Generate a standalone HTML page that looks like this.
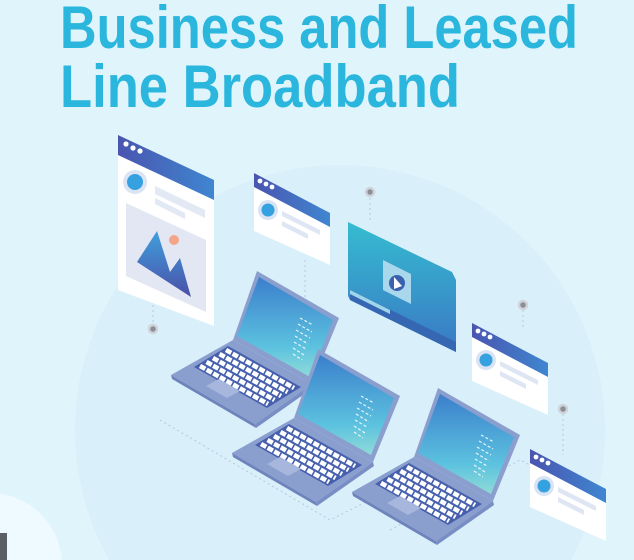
<!DOCTYPE html>
<html><head><style>
html,body{margin:0;padding:0;width:634px;height:560px;overflow:hidden;background:#e0f4fb}
svg{display:block;overflow:hidden}
</style></head><body>
<svg width="634" height="560" viewBox="0 0 634 560" xmlns="http://www.w3.org/2000/svg">
<defs>
<linearGradient id="hdr" x1="0" y1="0" x2="1" y2="0"><stop offset="0" stop-color="#4a55b0"/><stop offset="1" stop-color="#3f86d0"/></linearGradient>
<linearGradient id="vid" x1="0" y1="0" x2="0" y2="1"><stop offset="0" stop-color="#35bcd0"/><stop offset="1" stop-color="#3a78c4"/></linearGradient>
<linearGradient id="scr" x1="0" y1="0" x2="0" y2="1"><stop offset="0" stop-color="#3b7fcc"/><stop offset="0.7" stop-color="#5cc2df"/><stop offset="1" stop-color="#8fdbd8"/></linearGradient>
<linearGradient id="mtn" x1="0" y1="0" x2="0" y2="1"><stop offset="0" stop-color="#3fa0dc"/><stop offset="1" stop-color="#4a4fa8"/></linearGradient>
<g id="lap">
  <polygon points="171,375 233,340 312,384 255,424" fill="#8b9fcf"/>
  <polygon points="171,375 255,424 256,428 172,379" fill="#6f84bd"/>
  <polygon points="255,424 312,384 313,388 256,428" fill="#7a8ec6"/>
  <polygon points="233,340 257,271 339,318 312,384" fill="#8b9fcf"/>
  <polygon points="237,336 259,277 333,320 310,377" fill="url(#scr)"/>
  <g stroke="#ffffff" stroke-width="1.2" stroke-dasharray="3 2" opacity="0.85">
    <line x1="300" y1="318" x2="313" y2="325"/><line x1="298" y1="324" x2="312" y2="332"/>
    <line x1="296" y1="330" x2="310" y2="338"/><line x1="295" y1="336" x2="308" y2="344"/>
    <line x1="294" y1="342" x2="306" y2="349"/><line x1="293" y1="348" x2="304" y2="355"/>
    <line x1="293" y1="354" x2="302" y2="360"/>
  </g>
  <polygon points="194,367 228,346 301,387 267,408" fill="#4660ae"/>
  <g stroke="#ffffff" stroke-width="4.6" stroke-dasharray="6 1.6">
    <line x1="200" y1="366" x2="268" y2="404"/>
    <line x1="206.5" y1="362" x2="274.5" y2="400"/>
    <line x1="213" y1="358" x2="281" y2="396"/>
    <line x1="219.5" y1="354" x2="287.5" y2="392"/>
    <line x1="226" y1="350" x2="294" y2="388"/>
  </g>
  <polygon points="206,386 219,379 240,391 227,398" fill="#a7b6dc"/>
</g>
<g id="card">
  <polygon points="0,0 76,40 76,92 0,58" fill="#ffffff"/>
  <polygon points="0,0 76,40 76,54 0,14" fill="url(#hdr)"/>
  <circle cx="6" cy="8" r="2.4" fill="#fff"/><circle cx="12" cy="11" r="2.4" fill="#fff"/><circle cx="18" cy="14" r="2.4" fill="#fff"/>
  <circle cx="14" cy="37" r="10" fill="#d8e3f3"/><circle cx="14" cy="37" r="6.5" fill="#35a1e0"/>
  <polygon points="28,38 66,57 66,62 28,43" fill="#dfe6f3"/>
  <polygon points="28,48 54,61 54,66 28,53" fill="#dfe6f3"/>
</g>
</defs>
<rect width="634" height="560" fill="#e0f4fb"/>
<circle cx="340" cy="430" r="265" fill="#d9eff9"/>
<circle cx="-10" cy="565" r="72" fill="#eefaff"/>
<rect x="0" y="533" width="7" height="27" fill="#5b5f66"/>
<text x="60" y="48" font-family="Liberation Sans, sans-serif" font-weight="bold" font-size="60" fill="#2ab6dd" textLength="518" lengthAdjust="spacingAndGlyphs">Business and Leased</text>
<text x="60" y="107" font-family="Liberation Sans, sans-serif" font-weight="bold" font-size="60" fill="#2ab6dd" textLength="400" lengthAdjust="spacingAndGlyphs">Line Broadband</text>
<g stroke="#b5c9dc" stroke-width="1" stroke-dasharray="2 3" fill="none">
  <line x1="153" y1="300" x2="153" y2="325"/>
  <line x1="305" y1="260" x2="305" y2="320"/>
  <line x1="370" y1="198" x2="370" y2="222"/>
  <line x1="523" y1="310" x2="523" y2="330"/>
  <line x1="563" y1="414" x2="563" y2="455"/>
  <polyline points="160,420 330,520 380,495"/>
  <polyline points="390,530 520,460 600,500"/>
</g>
<!-- big card -->
<polygon points="118,135 214,180 214,326 118,290" fill="#ffffff"/>
<polygon points="118,135 214,180 214,200 118,155" fill="url(#hdr)"/>
<circle cx="126" cy="144" r="2.6" fill="#fff"/><circle cx="133" cy="148" r="2.6" fill="#fff"/><circle cx="140" cy="151" r="2.6" fill="#fff"/>
<circle cx="135" cy="182" r="12" fill="#dbe4f3"/><circle cx="135" cy="182" r="8" fill="#35a1e0"/>
<polygon points="155,186 205,210 205,218 155,194" fill="#e2e8f4"/>
<polygon points="155,198 185,213 185,219 155,204" fill="#e2e8f4"/>
<polygon points="126,203 206,240 206,312 126,276" fill="#e3e6f3"/>
<polygon points="137,262 157,231 170,272 180,258 191,297" fill="url(#mtn)"/>
<circle cx="174" cy="240" r="5" fill="#f4a58a"/>
<use href="#card" x="254" y="173"/>
<use href="#card" x="472" y="323"/>
<use href="#card" x="530" y="449"/>
<!-- video -->
<polygon points="348,222 452,272 456,280 456,352 350,300 348,296" fill="url(#vid)"/>
<polygon points="350,290 456,342 456,352 350,300" fill="#3567b3"/>
<polygon points="350,290 390,310 390,314 350,294" fill="#9fd6ea"/>
<polygon points="383,260 411,274 411,304 383,290" fill="#a9d8ec"/>
<circle cx="397" cy="283" r="8" fill="#3a62b0"/>
<polygon points="394,277 402,286 394,289" fill="#fff"/>
<g fill="#8c8e95" stroke="#cfd3da" stroke-width="2.5">
  <circle cx="370" cy="192" r="4"/><circle cx="153" cy="329" r="4"/>
  <circle cx="523" cy="305" r="4"/><circle cx="563" cy="409" r="4"/>
</g>
<use href="#lap"/>
<use href="#lap" x="61" y="78"/>
<use href="#lap" x="181" y="117"/>
</svg>
</body></html>
